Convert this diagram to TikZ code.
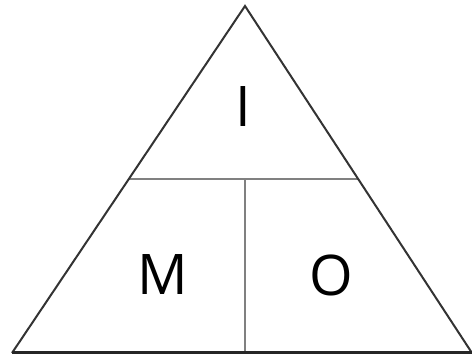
\documentclass[tikz,border=0pt]{standalone}
\usepackage{fontspec}
\setmainfont{Open Sans}
\begin{document}
\begin{tikzpicture}[x=1pt,y=1pt,
  side/.style={draw=black!80,line width=2pt,line join=miter},
  base/.style={draw=black!85,line width=3pt},
  divider/.style={draw=black!50,line width=2.2pt},
  lbl/.style={font=\fontsize{56}{56}\selectfont,text=black,inner sep=0pt}]
\useasboundingbox (0,0) rectangle (472,356);
\coordinate (apex) at (245,350);
\coordinate (bl) at (12,3);
\coordinate (br) at (472,3);
\coordinate (ml) at (128.5,177);
\coordinate (mr) at (358.5,177);
\coordinate (mid) at (245,177);
\coordinate (bm) at (245,3);
\draw[divider] (ml) -- (mr);
\draw[divider] (mid) -- (bm);
\draw[side] (bl) -- (apex) -- (br);
\draw[base] (bl) -- (br);
\node[lbl] (I) at (243,249) {I};
\node[lbl] (M) at (162.5,81) {M};
\node[lbl] (O) at (331,81) {O};
\end{tikzpicture}
\end{document}
